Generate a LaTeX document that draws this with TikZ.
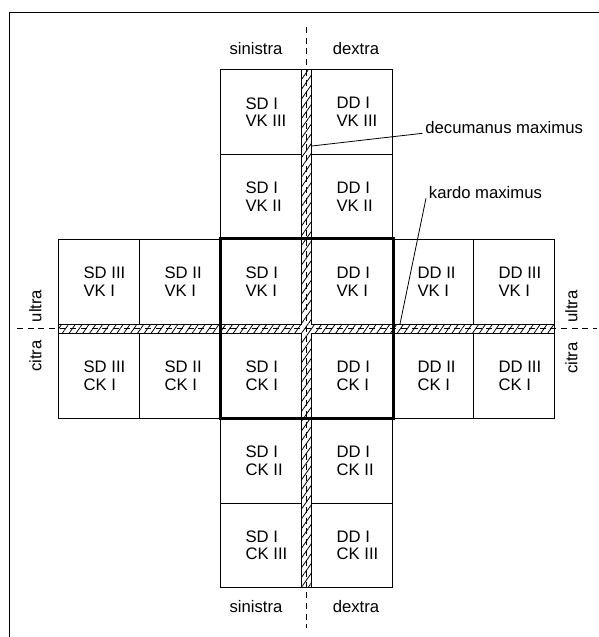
\documentclass[tikz,border=0pt]{standalone}
\usepackage{fontspec}
\setmainfont{Liberation Sans}
\usetikzlibrary{positioning,patterns.meta}
\tikzstyle{cell} = [draw, line width=0.6pt, minimum width=60.75pt, minimum height=63.56pt, inner sep=0pt]
\tikzstyle{lot} = [align=left, inner sep=0pt, font=\fontsize{12.5}{13.3}\selectfont]
\tikzstyle{side} = [font=\fontsize{12.5}{15}\selectfont]
\tikzstyle{axis} = [line width=0.6pt, dash pattern=on 4.5pt off 3.5pt]
\tikzstyle{road} = [draw, line width=0.6pt, pattern={Lines[angle=55,distance=4.2pt,line width=0.6pt]}]

\begin{document}
\begin{tikzpicture}[x=0.75pt,y=-0.75pt]
	\useasboundingbox (0,0) rectangle (599,637);
	\draw[line width=0.6pt] (599,12) -- (9,12) -- (9,637);
	% roads
	\path[road] (301.75,69.75) -- (311.75,69.75) -- (311.75,324) -- (554.75,324) -- (554.75,333.5) -- (311.75,333.5)
		-- (311.75,587.75) -- (301.75,587.75) -- (301.75,333.5) -- (58.75,333.5) -- (58.75,324) -- (301.75,324) -- cycle;
	% lots
	\node[cell] (s1v3) at (261.25,112.125) {};
	\node[cell] (d1v3) at (352.25,112.125) {};
	\node[cell] (s1v2) at (261.25,196.875) {};
	\node[cell] (d1v2) at (352.25,196.875) {};
	\node[cell] (s3v1) at (99.25,281.625) {};
	\node[cell] (s2v1) at (180.25,281.625) {};
	\node[cell] (s1v1) at (261.25,281.625) {};
	\node[cell] (d1v1) at (352.25,281.625) {};
	\node[cell] (d2v1) at (433.25,281.625) {};
	\node[cell] (d3v1) at (514.25,281.625) {};
	\node[cell] (s3c1) at (99.25,375.875) {};
	\node[cell] (s2c1) at (180.25,375.875) {};
	\node[cell] (s1c1) at (261.25,375.875) {};
	\node[cell] (d1c1) at (352.25,375.875) {};
	\node[cell] (d2c1) at (433.25,375.875) {};
	\node[cell] (d3c1) at (514.25,375.875) {};
	\node[cell] (s1c2) at (261.25,460.625) {};
	\node[cell] (d1c2) at (352.25,460.625) {};
	\node[cell] (s1c3) at (261.25,545.375) {};
	\node[cell] (d1c3) at (352.25,545.375) {};
	\node[lot, right = 18.75pt of s1v3.west] (s1v3t) {SD I\\VK III};
	\node[lot, right = 18.75pt of d1v3.west] (d1v3t) {DD I\\VK III};
	\node[lot, right = 18.75pt of s1v2.west] (s1v2t) {SD I\\VK II};
	\node[lot, right = 18.75pt of d1v2.west] (d1v2t) {DD I\\VK II};
	\node[lot, right = 18.75pt of s3v1.west] (s3v1t) {SD III\\VK I};
	\node[lot, right = 18.75pt of s2v1.west] (s2v1t) {SD II\\VK I};
	\node[lot, right = 18.75pt of s1v1.west] (s1v1t) {SD I\\VK I};
	\node[lot, right = 18.75pt of d1v1.west] (d1v1t) {DD I\\VK I};
	\node[lot, right = 18.75pt of d2v1.west] (d2v1t) {DD II\\VK I};
	\node[lot, right = 18.75pt of d3v1.west] (d3v1t) {DD III\\VK I};
	\node[lot, right = 18.75pt of s3c1.west] (s3c1t) {SD III\\CK I};
	\node[lot, right = 18.75pt of s2c1.west] (s2c1t) {SD II\\CK I};
	\node[lot, right = 18.75pt of s1c1.west] (s1c1t) {SD I\\CK I};
	\node[lot, right = 18.75pt of d1c1.west] (d1c1t) {DD I\\CK I};
	\node[lot, right = 18.75pt of d2c1.west] (d2c1t) {DD II\\CK I};
	\node[lot, right = 18.75pt of d3c1.west] (d3c1t) {DD III\\CK I};
	\node[lot, right = 18.75pt of s1c2.west] (s1c2t) {SD I\\CK II};
	\node[lot, right = 18.75pt of d1c2.west] (d1c2t) {DD I\\CK II};
	\node[lot, right = 18.75pt of s1c3.west] (s1c3t) {SD I\\CK III};
	\node[lot, right = 18.75pt of d1c3.west] (d1c3t) {DD I\\CK III};
	\draw[line width=2.25pt] (s1v1.north west) rectangle (d1c1.south east);
	% axes
	\coordinate (axn) at (306.75,27);
	\coordinate (axs) at (306.75,628);
	\coordinate (axw) at (17,328.75);
	\coordinate (axe) at (597,328.75);
	\draw[axis] (axn) -- (axs);
	\draw[axis] (axw) -- (axe);
	\node[side, anchor=base] (sin1) at (256,54) {sinistra};
	\node[side, anchor=base] (dex1) at (356,54) {dextra};
	\node[side, anchor=base] (sin2) at (256,612.5) {sinistra};
	\node[side, anchor=base] (dex2) at (356,612.5) {dextra};
	\node[side, rotate=90] (ul1) at (35.5,306) {ultra};
	\node[side, rotate=90] (ci1) at (35.5,356) {citra};
	\node[side, rotate=90] (ul2) at (571.5,306.5) {ultra};
	\node[side, rotate=90] (ci2) at (571.5,358) {citra};
	% leaders
	\node[side, anchor=base west, inner sep=2pt] (decu) at (422.5,133.3) {decumanus maximus};
	\node[side, anchor=base west, inner sep=2pt] (kard) at (426,198.3) {kardo maximus};
	\coordinate (decuend) at (311.75,146);
	\coordinate (kardend) at (400,324);
	\draw[line width=0.6pt] (decu.base west) -- (decuend);
	\draw[line width=0.6pt] (kard.base west) -- (kardend);
\end{tikzpicture}
\end{document}
